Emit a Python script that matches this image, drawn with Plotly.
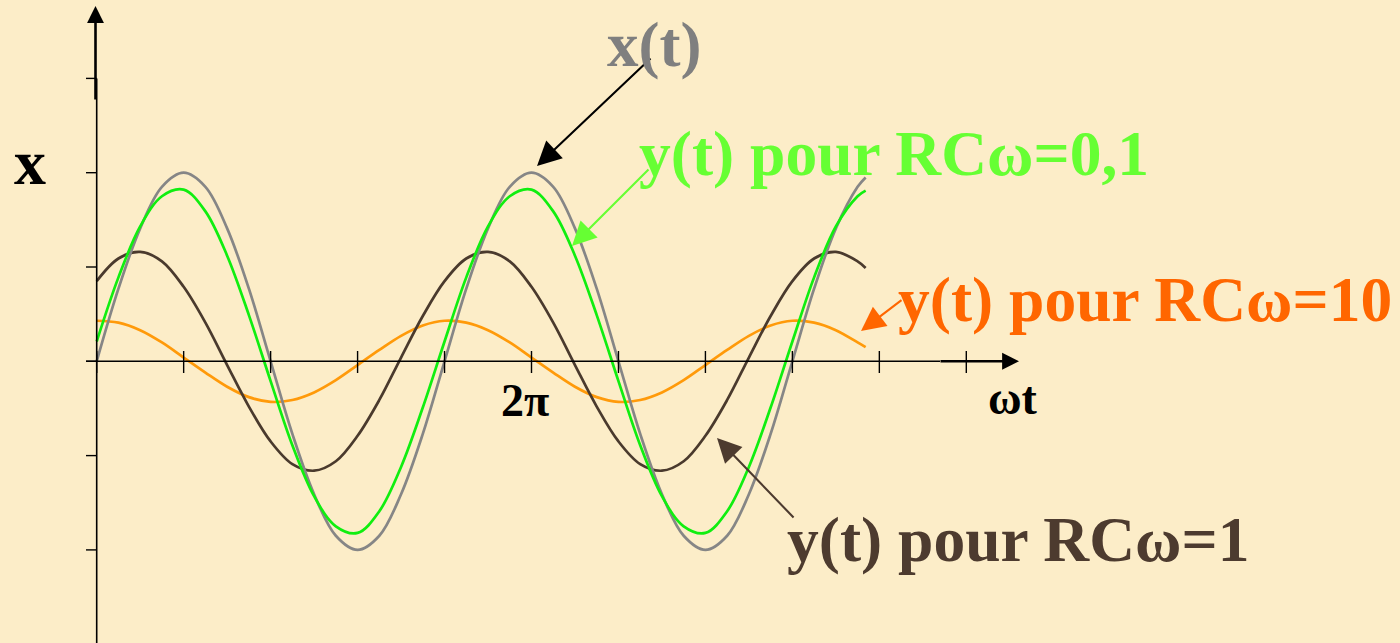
import math
import plotly.graph_objects as go

PI = math.pi

# ---------------- data ----------------
# sample positions along omega*t, in units of pi/8
steps = [0, 1, 2, 3, 4, 5, 6, 7, 8, 9, 10, 11, 12, 13, 14, 15,
         16, 17, 18, 19, 20, 21, 22, 23, 24, 25, 26, 27, 28, 29, 30, 31,
         32, 33, 34, 35, 35.37]
wt = [s * PI / 8 for s in steps]

x_t = [0.00, 0.77, 1.41, 1.85, 2.00, 1.85, 1.41, 0.77, 0.00, -0.77, -1.41, -1.85, -2.00, -1.85, -1.41, -0.77,
       0.00, 0.77, 1.41, 1.85, 2.00, 1.85, 1.41, 0.77, 0.00, -0.77, -1.41, -1.85, -2.00, -1.85, -1.41, -0.77,
       0.00, 0.77, 1.41, 1.85, 1.95]

y_rc01 = [0.21, 0.89, 1.43, 1.75, 1.82, 1.59, 1.12, 0.49, -0.21, -0.89, -1.43, -1.75, -1.82, -1.59, -1.12, -0.49,
          0.21, 0.89, 1.43, 1.75, 1.82, 1.59, 1.12, 0.49, -0.21, -0.89, -1.43, -1.75, -1.82, -1.59, -1.12, -0.49,
          0.21, 0.89, 1.43, 1.75, 1.81]

y_rc1 = [0.85, 1.09, 1.16, 1.06, 0.79, 0.41, -0.04, -0.48, -0.85, -1.09, -1.16, -1.06, -0.79, -0.41, 0.04, 0.48,
         0.85, 1.09, 1.16, 1.06, 0.79, 0.41, -0.04, -0.48, -0.85, -1.09, -1.16, -1.06, -0.79, -0.41, 0.04, 0.48,
         0.85, 1.09, 1.16, 1.06, 0.99]

y_rc10 = [0.43, 0.41, 0.33, 0.20, 0.04, -0.12, -0.27, -0.38, -0.43, -0.41, -0.33, -0.20, -0.04, 0.12, 0.27, 0.38,
          0.43, 0.41, 0.33, 0.20, 0.04, -0.12, -0.27, -0.38, -0.43, -0.41, -0.33, -0.20, -0.04, 0.12, 0.27, 0.38,
          0.43, 0.41, 0.33, 0.20, 0.15]

x_tick_steps = [0, 1, 2, 3, 4, 5, 6, 7, 8, 9, 10]      # in units of pi/2
y_ticks = [-3, -2, -1, 0, 1, 2, 3]
x_tick_label_steps = [5]                               # in units of pi/2
x_tick_labels = ["2π"]

label_x = "x(t)"
label_rc01 = "y(t) pour RCω=0,1"
label_rc10 = "y(t) pour RCω=10"
label_rc1 = "y(t) pour RCω=1"
axis_x_title = "ωt"
axis_y_title = "x"

# ---------------- geometry / style ----------------
W, H = 1400, 643
PX_X0 = 96.7
PX_PER_RAD = 86.96 / (PI / 2)
PY_Y0 = 361.3
PX_PER_UNIT = 94.3


def X(px):
    return (px - PX_X0) / PX_PER_RAD


def Y(py):
    return (PY_Y0 - py) / PX_PER_UNIT


BG = "#FCEDC8"
FONT = "Liberation Serif, Times New Roman, serif"
C_GRAY_LINE = "#868686"
C_GREEN_LINE = "#10EE10"
C_BROWN_LINE = "#4A3A2D"
C_ORANGE_LINE = "#FF9A0A"
C_GRAY_TXT = "#7F7F7F"
C_GREEN_TXT = "#66FF33"
C_ORANGE_TXT = "#FF6600"
C_BROWN_TXT = "#4D3B2F"

fig = go.Figure()

series = [
    (y_rc10, C_ORANGE_LINE, "RCω=10"),
    (y_rc1, C_BROWN_LINE, "RCω=1"),
    (x_t, C_GRAY_LINE, "x(t)"),
    (y_rc01, C_GREEN_LINE, "RCω=0,1"),
]
for vals, col, name in series:
    fig.add_trace(go.Scatter(x=wt, y=vals, mode="lines", name=name,
                             line=dict(color=col, width=2.7, shape="spline", smoothing=1.0),
                             hoverinfo="skip"))

shapes = []
# x axis (thin part)
shapes.append(dict(type="line", xref="x", yref="y", x0=X(86), x1=X(940), y0=0, y1=0,
                   line=dict(color="black", width=1.5)))
# y axis (thin part)
shapes.append(dict(type="line", xref="x", yref="y", x0=0, x1=0, y0=Y(H + 2), y1=3,
                   line=dict(color="black", width=1.6)))
# x ticks (crossing)
for k in x_tick_steps:
    xv = k * PI / 2
    shapes.append(dict(type="line", xref="x", yref="y", x0=xv, x1=xv, y0=Y(351), y1=Y(373),
                       line=dict(color="black", width=1.4)))
# y ticks (outside, left)
for v in y_ticks:
    shapes.append(dict(type="line", xref="x", yref="y", x0=X(86), x1=0, y0=v, y1=v,
                       line=dict(color="black", width=1.4)))

annotations = []


def arrow(tip_px, tip_py, tail_px, tail_py, color, width, size):
    annotations.append(dict(xref="x", yref="y", axref="x", ayref="y",
                            x=X(tip_px), y=Y(tip_py), ax=X(tail_px), ay=Y(tail_py),
                            text="", showarrow=True, arrowhead=2, arrowsize=size,
                            arrowwidth=width, arrowcolor=color, standoff=0, startstandoff=0))


# axis arrows
arrow(1019, PY_Y0, 939, PY_Y0, "black", 2.6, 1.3)
arrow(95.5, 6, 95.5, 101, "black", 2.6, 1.3)

# label arrows
arrow(537, 166, 652, 57, "black", 2.1, 2.3)
arrow(572, 246, 650, 168, C_GREEN_TXT, 2.1, 2.3)
arrow(861, 331, 903, 299, C_ORANGE_TXT, 2.1, 2.3)
arrow(717, 438, 795, 519, C_BROWN_TXT, 2.1, 2.3)


def text(s, px, py_mid, size, color, anchor="left"):
    annotations.append(dict(xref="x", yref="y", x=X(px), y=Y(py_mid), text="<b>" + s + "</b>",
                            showarrow=False, xanchor=anchor, yanchor="middle",
                            font=dict(family=FONT, size=size, color=color), borderpad=0))


text(label_x, 606, 45, 63, C_GRAY_TXT)
text(label_rc01, 638, 153, 63.5, C_GREEN_TXT)
text(label_rc10, 897, 299, 63.5, C_ORANGE_TXT)
text(label_rc1, 786, 539, 63.5, C_BROWN_TXT)
text(axis_y_title, 29.5, 162, 64, "black", anchor="center")
text(axis_x_title, 1013, 398, 46, "black", anchor="center")
for k, lab in zip(x_tick_label_steps, x_tick_labels):
    annotations.append(dict(xref="x", yref="y", x=k * PI / 2, y=Y(400), text="<b>" + lab + "</b>",
                            showarrow=False, xanchor="center", yanchor="middle", xshift=-7,
                            font=dict(family=FONT, size=46, color="black"), borderpad=0))

fig.update_layout(
    width=W, height=H, autosize=False,
    margin=dict(l=0, r=0, t=0, b=0, pad=0),
    paper_bgcolor=BG, plot_bgcolor=BG,
    showlegend=False,
    xaxis=dict(visible=False, range=[X(0), X(W)], fixedrange=True),
    yaxis=dict(visible=False, range=[Y(H), Y(0)], fixedrange=True),
    shapes=shapes,
    annotations=annotations,
)

fig.write_html("out.html", config={"displayModeBar": False},
               post_script="document.body.style.margin='0';document.body.style.overflow='hidden';")
